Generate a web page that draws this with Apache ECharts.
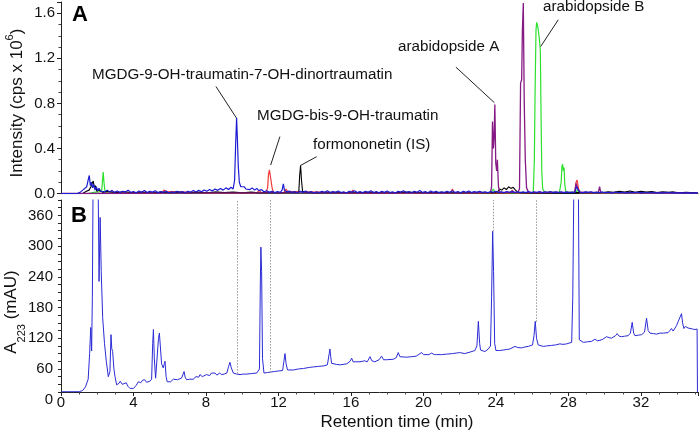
<!DOCTYPE html>
<html>
<head>
<meta charset="utf-8">
<script src="https://cdn.jsdelivr.net/npm/echarts@6/dist/echarts.min.js"></script>
<style>html,body{margin:0;padding:0;background:#fff;}#c{width:700px;height:436px;}</style>
</head>
<body>
<div id="c"></div>
<script>
// ---------- Data (retention time in min, value) ----------
const xTicks = [0, 4, 8, 12, 16, 20, 24, 28, 32];
const yTicksA = [0.0, 0.4, 0.8, 1.2, 1.6];
const yTicksB = [0, 60, 120, 180, 240, 300, 360];

// Panel A: MS traces (cps x 10^6)
const msBlue = [[0,0],[0.9,0],[1.05,0.01],[1.2,0.03],[1.3,0.015],[1.42,0.06],[1.5,0.12],[1.56,0.16],[1.62,0.07],[1.68,0.1],[1.74,0.05],[1.8,0.08],[1.88,0.03],[1.95,0.06],[2.02,0.025],[2.1,0.045],[2.2,0.02],[2.3,0.035],[2.42,0.015],[2.55,0.03],[2.68,0.012],[2.8,0.028],[2.95,0.01],[3.1,0.022],[3.25,0.008],[3.4,0.02],[3.55,0.012],[3.7,0.03],[3.85,0.01],[4.0,0.018],[4.15,0.006],[4.3,0.022],[4.45,0.01],[4.6,0.026],[4.75,0.008],[4.9,0.02],[5.05,0.012],[5.2,0.024],[5.35,0.006],[5.5,0.018],[5.65,0.01],[5.8,0.022],[5.95,0.005],[6.1,0.016],[6.25,0.008],[6.4,0.02],[6.55,0.01],[6.7,0.018],[6.85,0.006],[7.0,0.02],[7.15,0.012],[7.3,0.026],[7.45,0.014],[7.6,0.028],[7.75,0.016],[7.9,0.03],[8.05,0.02],[8.2,0.035],[8.35,0.022],[8.5,0.04],[8.65,0.028],[8.8,0.045],[8.95,0.03],[9.1,0.05],[9.25,0.035],[9.38,0.055],[9.5,0.04],[9.58,0.12],[9.64,0.45],[9.69,0.67],[9.73,0.5],[9.78,0.25],[9.84,0.1],[9.92,0.06],[10.0,0.045],[10.1,0.06],[10.2,0.04],[10.3,0.055],[10.42,0.035],[10.55,0.05],[10.68,0.03],[10.8,0.045],[10.92,0.025],[11.05,0.035],[11.2,0.015],[11.35,0.025],[11.5,0.01],[11.65,0.02],[11.8,0.008],[11.95,0.018],[12.1,0.01],[12.2,0.03],[12.27,0.085],[12.33,0.03],[12.45,0.015],[12.6,0.022],[12.75,0.008],[12.9,0.018],[13.05,0.006],[13.2,0.02],[13.35,0.01],[13.5,0.022],[13.65,0.008],[13.8,0.018],[13.95,0.005],[14.1,0.016],[14.25,0.008],[14.4,0.02],[14.55,0.01],[14.7,0.024],[14.85,0.006],[15.0,0.018],[15.15,0.01],[15.3,0.022],[15.45,0.008],[15.6,0.016],[15.75,0.005],[15.9,0.02],[16.05,0.012],[16.2,0.024],[16.35,0.008],[16.5,0.018],[16.65,0.006],[16.8,0.02],[16.95,0.01],[17.1,0.025],[17.25,0.008],[17.4,0.018],[17.55,0.006],[17.7,0.02],[17.85,0.01],[18.0,0.022],[18.15,0.008],[18.3,0.016],[18.45,0.005],[18.6,0.02],[18.75,0.012],[18.9,0.024],[19.05,0.008],[19.2,0.018],[19.35,0.006],[19.5,0.02],[19.65,0.01],[19.8,0.026],[19.95,0.008],[20.1,0.018],[20.25,0.006],[20.4,0.022],[20.55,0.01],[20.7,0.02],[20.85,0.006],[21.0,0.016],[21.15,0.008],[21.3,0.02],[21.45,0.01],[21.6,0.024],[21.75,0.008],[21.9,0.018],[22.05,0.006],[22.2,0.02],[22.35,0.01],[22.5,0.022],[22.65,0.008],[22.8,0.018],[22.95,0.01],[23.1,0.02],[23.25,0.008],[23.4,0.016],[23.55,0.006],[23.7,0.018],[23.85,0.01],[24.0,0.02],[24.15,0.008],[24.3,0.016],[24.45,0.006],[24.6,0.018],[24.75,0.01],[24.9,0.02],[25.05,0.008],[25.2,0.016],[25.35,0.006],[25.5,0.014],[25.65,0.008],[25.8,0.018],[25.95,0.006],[26.1,0.016],[26.25,0.008],[26.4,0.018],[26.55,0.006],[26.7,0.016],[26.85,0.008],[27.0,0.018],[27.15,0.006],[27.3,0.014],[27.45,0.008],[27.6,0.016],[27.75,0.006],[27.9,0.014],[28.05,0.008],[28.2,0.012],[28.35,0.01],[28.45,0.06],[28.5,0.07],[28.55,0.03],[28.65,0.012],[28.8,0.006],[28.95,0.014],[29.1,0.008],[29.25,0.016],[29.4,0.005],[29.55,0.012],[29.7,0.006],[29.85,0.014],[30.0,0.005],[30.2,0.01],[30.4,0.004],[30.6,0.012],[30.8,0.005],[31.0,0.01],[31.2,0.004],[31.4,0.01],[31.6,0.005],[31.8,0.012],[32.0,0.004],[32.2,0.01],[32.4,0.005],[32.6,0.01],[32.8,0.004],[33.0,0.008],[33.2,0.004],[33.4,0.01],[33.6,0.005],[33.8,0.008],[34.0,0.004],[34.2,0.008],[34.4,0.003],[34.6,0.007],[34.8,0.004],[35.0,0.006],[35.15,0.004]];

const msBlack = [[0,0],[1.2,0],[1.4,0.02],[1.55,0.03],[1.65,0.06],[1.72,0.09],[1.78,0.11],[1.84,0.05],[1.9,0.07],[1.98,0.02],[2.1,0.03],[2.3,0.01],[2.6,0.02],[3.0,0.008],[3.5,0.015],[4.0,0.006],[4.5,0.014],[5.0,0.005],[5.5,0.012],[6.0,0.006],[6.5,0.012],[7.0,0.005],[7.5,0.012],[8.0,0.006],[8.5,0.014],[9.0,0.008],[9.5,0.012],[10.0,0.006],[10.5,0.012],[11.0,0.005],[11.5,0.01],[12.0,0.005],[12.5,0.012],[13.0,0.008],[13.12,0.01],[13.17,0.16],[13.22,0.25],[13.27,0.12],[13.33,0.02],[13.5,0.01],[14,0.005],[15,0.01],[16,0.006],[17,0.01],[18,0.005],[19,0.012],[20,0.006],[21,0.01],[22,0.005],[23,0.01],[23.8,0.008],[24.1,0.015],[24.2,0.04],[24.32,0.03],[24.45,0.05],[24.58,0.035],[24.7,0.06],[24.82,0.045],[24.95,0.055],[25.08,0.03],[25.2,0.012],[25.5,0.008],[26,0.006],[27,0.01],[28,0.006],[29,0.01],[29.8,0.006],[30.2,0.015],[30.5,0.01],[30.8,0.02],[31.1,0.012],[31.4,0.022],[31.7,0.01],[32.0,0.02],[32.3,0.012],[32.6,0.018],[32.9,0.008],[33.2,0.016],[33.5,0.01],[33.8,0.014],[34.1,0.006],[34.5,0.01],[35.15,0.005]];

const msGreen = [[0,0],[1.5,0],[1.8,0.01],[2.1,0.015],[2.25,0.03],[2.29,0.12],[2.33,0.19],[2.37,0.1],[2.42,0.03],[2.5,0.01],[3,0.005],[5,0.004],[8,0.006],[12,0.005],[16,0.006],[20,0.005],[23.7,0.006],[23.85,0.04],[23.95,0.01],[25,0.006],[26.06,0.01],[26.12,0.3],[26.16,0.9],[26.21,1.45],[26.25,1.52],[26.32,1.47],[26.39,1.38],[26.45,1.27],[26.49,0.7],[26.53,0.2],[26.58,0.04],[26.7,0.01],[27.5,0.01],[27.6,0.1],[27.64,0.24],[27.68,0.26],[27.72,0.2],[27.76,0.23],[27.8,0.08],[27.86,0.01],[28.4,0.01],[28.5,0.03],[28.6,0.008],[30,0.005],[35.15,0.003]];

const msRed = [[0,0],[2,0],[3,0.005],[5.6,0.006],[5.68,0.03],[5.74,0.045],[5.8,0.02],[5.9,0.005],[8,0.006],[10.8,0.006],[10.95,0.03],[11.02,0.01],[11.3,0.008],[11.4,0.05],[11.45,0.17],[11.5,0.21],[11.55,0.22],[11.6,0.2],[11.65,0.05],[11.72,0.01],[12.3,0.008],[12.42,0.04],[12.5,0.02],[12.6,0.006],[16.0,0.006],[16.1,0.03],[16.18,0.006],[21.5,0.006],[21.6,0.04],[21.68,0.006],[24.8,0.005],[24.9,0.03],[25.0,0.005],[28.35,0.01],[28.42,0.1],[28.48,0.12],[28.55,0.05],[28.62,0.006],[30.5,0.005],[30.6,0.02],[30.7,0.005],[35.15,0.003]];

const msPurple = [[0,0],[2,0],[6,0.004],[12,0.005],[18,0.004],[22.5,0.005],[23.7,0.01],[23.76,0.06],[23.81,0.64],[23.86,0.4],[23.9,0.5],[23.94,0.79],[23.99,0.27],[24.04,0.2],[24.08,0.3],[24.14,0.06],[24.22,0.01],[25.2,0.01],[25.3,0.04],[25.36,0.98],[25.42,1.01],[25.46,1.45],[25.51,1.69],[25.56,0.83],[25.62,0.3],[25.69,0.05],[25.8,0.01],[28.35,0.01],[28.42,0.09],[28.48,0.1],[28.55,0.03],[28.65,0.01],[29.65,0.01],[29.72,0.06],[29.78,0.01],[35.15,0.003]];

// Panel B: UV trace A223 (mAU)
const uvB = [[0,15.5],[1.0,15.5],[1.2,18],[1.35,25],[1.5,40],[1.58,90],[1.64,141],[1.69,95],[1.73,200],[1.77,420],[2.05,420],[2.1,231],[2.16,356],[2.22,250],[2.3,160],[2.4,110],[2.5,75],[2.61,45],[2.7,55],[2.76,127],[2.8,100],[2.85,94],[2.92,60],[2.98,45],[3.07,29],[3.2,32],[3.27,36],[3.38,30],[3.47,29],[3.6,33],[3.7,26],[3.81,22],[4.0,22],[4.15,28],[4.27,35],[4.4,33],[4.5,38],[4.62,39],[4.72,34],[4.8,32],[4.9,36],[5.0,40],[5.06,110],[5.1,137],[5.15,80],[5.22,42],[5.3,45],[5.38,120],[5.43,130],[5.48,128],[5.55,70],[5.64,62],[5.7,70],[5.74,75],[5.8,45],[5.86,35],[6.05,35],[6.2,40],[6.42,39],[6.65,42],[6.74,50],[6.79,55],[6.85,44],[6.93,39],[7.1,40],[7.3,40],[7.45,45],[7.6,44],[7.67,49],[7.8,45],[8.03,49],[8.2,47],[8.3,52],[8.5,52],[8.6,48],[8.75,52],[8.87,49],[9.0,50],[9.15,52],[9.25,65],[9.32,73],[9.4,62],[9.51,52],[9.7,50],[9.88,49],[10.05,50],[10.25,50],[10.5,51],[10.8,52],[10.95,60],[11.0,230],[11.03,298],[11.07,250],[11.12,80],[11.2,52],[11.4,53],[11.6,54],[11.77,55],[12.0,56],[12.23,57],[12.3,75],[12.36,90],[12.42,70],[12.5,58],[12.83,58],[13.1,60],[13.39,61],[13.7,63],[13.94,64],[14.2,65],[14.5,66],[14.7,68],[14.8,90],[14.84,99],[14.88,85],[14.93,71],[15.2,69],[15.4,68],[15.77,70],[15.95,75],[16.04,81],[16.12,74],[16.2,72],[16.5,74],[16.76,76],[16.9,74],[17.05,84],[17.15,76],[17.32,74],[17.55,78],[17.69,85],[17.8,78],[17.97,78],[18.34,79],[18.5,82],[18.61,92],[18.7,84],[18.8,84],[19.07,83],[19.35,84],[19.6,85],[19.9,92],[20.0,88],[20.09,86],[20.3,88],[20.45,91],[20.6,88],[20.73,88],[21.0,88],[21.28,89],[21.6,90],[21.8,91],[22.0,92],[22.28,90],[22.57,93],[22.84,96],[22.95,105],[23.03,153],[23.1,110],[23.15,97],[23.39,94],[23.58,99],[23.7,105],[23.76,200],[23.82,329],[23.87,250],[23.93,110],[24.0,96],[24.2,96],[24.4,97],[24.6,98],[24.77,99],[25.05,104],[25.2,102],[25.4,101],[25.6,103],[25.78,104],[26.02,107],[26.1,125],[26.17,153],[26.24,120],[26.33,107],[26.61,104],[26.8,105],[27.07,106],[27.3,107],[27.53,109],[27.7,108],[27.9,109],[28.18,112],[28.24,200],[28.3,420],[28.55,420],[28.6,117],[28.82,112],[29.05,113],[29.28,114],[29.46,118],[29.6,115],[29.74,116],[29.9,118],[30.1,123],[30.25,121],[30.38,120],[30.6,125],[30.69,129],[30.8,124],[30.93,123],[31.1,124],[31.3,125],[31.42,130],[31.52,151],[31.6,130],[31.67,125],[31.85,126],[32.04,127],[32.2,132],[32.31,159],[32.4,135],[32.5,130],[32.7,129],[32.87,128],[33.05,130],[33.24,130],[33.5,131],[33.6,135],[33.68,139],[33.78,134],[33.87,137],[33.97,145],[34.06,153],[34.15,150],[34.24,168],[34.3,150],[34.37,139],[34.45,143],[34.52,143],[34.6,140],[34.7,139],[34.85,138],[34.98,137],[35.1,138],[35.12,15]];

// Dotted guide lines linking MS peaks to UV trace: [time, UV value at that time]
const guideTimes = [9.74, 11.53, 23.84, 26.2];
const guideUV = [51, 53, 329, 152];

// Peak annotations: label, leader start [t, v], leader end [t, v]
const annoLabels = ['MGDG-9-OH-traumatin-7-OH-dinortraumatin', 'MGDG-bis-9-OH-traumatin', 'formononetin (IS)', 'arabidopside A', 'arabidopside B'];
const annoFrom = [[8.55, 0.95], [12.08, 0.505], [14.11, 0.327], [21.79, 1.122], [27.44, 1.542]];
const annoTo = [[9.69, 0.668], [11.57, 0.253], [13.22, 0.249], [23.91, 0.807], [26.47, 1.305]];
// label anchor (left, middle) in pixels
const annoPos = [[92, 75], [257, 116], [313, 145], [398, 47], [543, 7]];

// ---------- Chart ----------
const FONT = '"Liberation Sans", Arial, Helvetica, sans-serif';
const chart = echarts.init(document.getElementById('c'), null, {renderer: 'canvas'});
const AX = '#222';

function mkLine(data, color, xi, yi, w, z) {
  return {type: 'line', data: data, xAxisIndex: xi, yAxisIndex: yi, showSymbol: false, symbol: 'none',
    lineStyle: {color: color, width: w}, itemStyle: {color: color}, z: z, clip: true,
    animation: false, silent: true};
}

const blackSeries = mkLine(msBlack, '#000000', 0, 0, 1.1, 3);
blackSeries.markLine = {
  silent: true, symbol: ['none', 'none'], animation: false,
  lineStyle: {color: '#222', width: 1, type: 'solid'},
  label: {show: false},
  data: annoFrom.map((f, i) => [{coord: f}, {coord: annoTo[i]}])
};

const uvSeries = mkLine(uvB, '#2b2bd6', 1, 1, 1, 3);
uvSeries.markLine = {
  silent: true, symbol: ['none', 'none'], animation: false,
  lineStyle: {color: '#9a9a9a', width: 1, type: [1.5, 1.5]},
  label: {show: false},
  data: guideTimes.map((t, i) => [{coord: [t, guideUV[i]]}, {coord: [t, 390]}])
};

const option = {
  backgroundColor: '#fff',
  animation: false,
  textStyle: {fontFamily: FONT},
  grid: [
    {left: 61, right: 2, top: 2, height: 191.5},
    {left: 61, right: 2, top: 200, height: 192}
  ],
  xAxis: [
    {gridIndex: 0, type: 'value', min: 0, max: 35.15, interval: 4,
      axisLine: {show: true, lineStyle: {color: AX, width: 1}},
      axisTick: {show: false}, axisLabel: {show: false}, splitLine: {show: false}},
    {gridIndex: 1, type: 'value', min: 0, max: 35.15, interval: 4,
      axisLine: {show: true, lineStyle: {color: AX, width: 1}},
      axisTick: {show: true, length: 4, lineStyle: {color: AX}},
      minorTick: {show: true, splitNumber: 4, length: 2.5, lineStyle: {color: '#444'}},
      axisLabel: {margin: 3, fontSize: 15, color: '#111', fontFamily: FONT, showMaxLabel: false,
        formatter: v => xTicks.indexOf(v) >= 0 ? String(v) : ''},
      splitLine: {show: false}}
  ],
  yAxis: [
    {gridIndex: 0, type: 'value', min: 0, max: 1.7, interval: 0.4,
      axisLine: {show: true, lineStyle: {color: AX, width: 1}},
      axisTick: {show: true, length: 4, lineStyle: {color: AX}},
      minorTick: {show: true, splitNumber: 4, length: 2.5, lineStyle: {color: '#444'}},
      axisLabel: {margin: 6, fontSize: 15, color: '#111', fontFamily: FONT, showMaxLabel: false,
        formatter: v => yTicksA.some(t => Math.abs(t - v) < 1e-6) ? v.toFixed(1) : ''},
      splitLine: {show: false}},
    {gridIndex: 1, type: 'value', min: 15, max: 390, interval: 15,
      axisLine: {show: true, lineStyle: {color: AX, width: 1}},
      axisTick: {show: true, length: 3, lineStyle: {color: AX}},
      axisLabel: {margin: 8, fontSize: 15, color: '#111', fontFamily: FONT,
        formatter: v => (v === 15 ? '{z|' + yTicksB[0] + '}' : (yTicksB.indexOf(v) >= 0 ? String(v) : '')),
        rich: {z: {fontSize: 15, color: '#111', fontFamily: FONT, padding: [16, 0, 0, 0]}}},
      splitLine: {show: false}}
  ],
  series: [
    mkLine(msGreen, '#2ee02e', 0, 0, 1.2, 2),
    mkLine(msRed, '#f03a3a', 0, 0, 1.2, 2),
    blackSeries,
    mkLine(msPurple, '#861a84', 0, 0, 1.3, 4),
    mkLine(msBlue, '#1c1cd2', 0, 0, 1.2, 5),
    uvSeries
  ],
  graphic: [
    {type: 'text', x: 80, y: 14.5, style: {text: 'A', font: 'bold 22px ' + FONT, fill: '#000', align: 'center', verticalAlign: 'middle', textAlign: 'center', textVerticalAlign: 'middle'}},
    {type: 'text', x: 79, y: 216, style: {text: 'B', font: 'bold 22px ' + FONT, fill: '#000', align: 'center', verticalAlign: 'middle', textAlign: 'center', textVerticalAlign: 'middle'}},
    {type: 'text', x: 15, y: 103, rotation: Math.PI / 2,
      style: {text: '{n|Intensity (cps x 10}{s|6}{n|)}', align: 'center', verticalAlign: 'middle', textAlign: 'center', textVerticalAlign: 'middle',
        rich: {n: {fontSize: 17, fontFamily: FONT, fill: '#111', color: '#111', lineHeight: 22, verticalAlign: 'bottom'},
               s: {fontSize: 11, fontFamily: FONT, fill: '#111', color: '#111', lineHeight: 22, verticalAlign: 'top'}}}},
    {type: 'text', x: 15, y: 312, rotation: Math.PI / 2,
      style: {text: '{n|A}{s|223}{n| (mAU)}', align: 'center', verticalAlign: 'middle', textAlign: 'center', textVerticalAlign: 'middle',
        rich: {n: {fontSize: 17, fontFamily: FONT, fill: '#111', color: '#111', lineHeight: 24, verticalAlign: 'top'},
               s: {fontSize: 11, fontFamily: FONT, fill: '#111', color: '#111', lineHeight: 24, verticalAlign: 'bottom'}}}},
    {type: 'text', x: 397, y: 422, style: {text: 'Retention time (min)', font: '17px ' + FONT, fill: '#111', align: 'center', verticalAlign: 'middle', textAlign: 'center', textVerticalAlign: 'middle'}}
  ].concat(annoLabels.map((t, i) => ({
    type: 'text', x: annoPos[i][0], y: annoPos[i][1],
    style: {text: t, font: '15.2px ' + FONT, fill: '#111', align: 'left', verticalAlign: 'middle', textAlign: 'left', textVerticalAlign: 'middle'}
  })))
};
chart.setOption(option);
</script>
</body>
</html>
